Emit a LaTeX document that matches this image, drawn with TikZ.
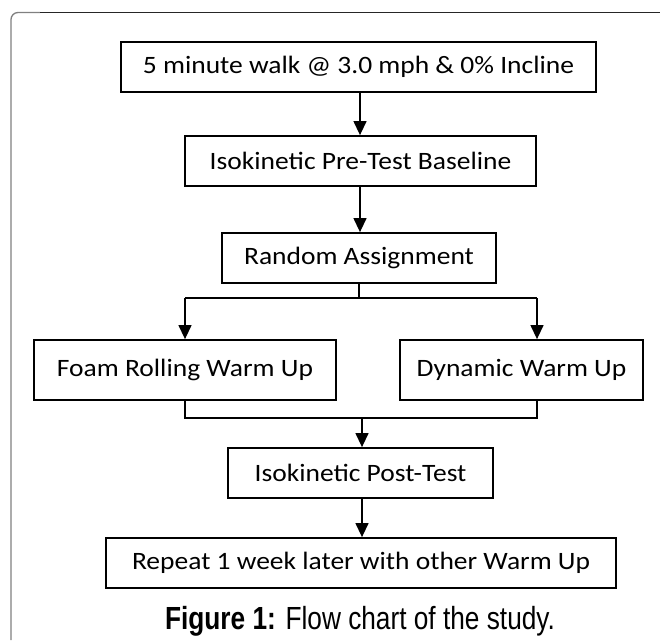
\documentclass[tikz,border=0pt]{standalone}
\usepackage{fontspec}
\setmainfont{Carlito}[FakeStretch=1.1]
\newfontfamily\capfont{Liberation Sans}[FakeStretch=0.82]
\usetikzlibrary{positioning, arrows.meta, calc}

\begin{document}
\begin{tikzpicture}[x=1pt, y=-1pt,
  stepbox/.style={draw, line width=1.8pt, inner sep=0pt, font=\fontsize{25}{30}\selectfont},
  link/.style={draw, line width=1.3pt},
  flow/.style={link, -{Triangle[length=14pt, width=13pt]}}]
\useasboundingbox (0,0) rectangle (660,640);
% frame
\draw[line width=1.3pt, gray, rounded corners=7pt] (11,640) -- (11,12.5) -- (40,12.5);
\draw[line width=1.3pt, black!85] (40,12.5) -- (660,12.5);

% boxes
\node[stepbox, minimum width=475pt, minimum height=50pt] (walk) at (358.5,67) {5 minute walk @ 3.0 mph \& 0\% Incline};
\node[stepbox, minimum width=351pt, minimum height=50pt] (pre) at (360.5,161) {Isokinetic Pre-Test Baseline};
\node[stepbox, minimum width=274pt, minimum height=50pt] (rand) at (359,258) {Random Assignment};
\node[stepbox, minimum width=302pt, minimum height=60pt] (foam) at (185,370) {Foam Rolling Warm Up};
\node[stepbox, minimum width=243pt, minimum height=60pt] (dyn) at (521.5,370) {Dynamic Warm Up};
\node[stepbox, minimum width=265pt, minimum height=50pt] (post) at (360.5,473) {Isokinetic Post-Test};
\node[stepbox, minimum width=510pt, minimum height=50pt] (rep) at (361,563) {Repeat 1 week later with other Warm Up};
\node[font=\capfont\fontsize{32}{36}\selectfont, anchor=base] (cap) at (360,629) {\textbf{Figure 1:} Flow chart of the study.};

% connectors
\coordinate (splitL) at (185,298);
\coordinate (splitR) at (537,298);
\coordinate (mergeL) at (185,418);
\coordinate (mergeR) at (537,418);
\draw[flow] (walk.south -| 360,0) -- (pre.north -| 360,0);
\draw[flow] (pre.south -| 360,0) -- (rand.north -| 360,0);
\draw[link] (rand.south) -- (rand.south |- splitL);
\draw[link] (splitL) -- (splitR);
\draw[flow] (splitL) -- (splitL |- foam.north);
\draw[flow] (splitR) -- (splitR |- dyn.north);
\draw[link] (mergeL |- foam.south) -- (mergeL) -- (mergeR) -- (mergeR |- dyn.south);
\draw[flow] (362,418) -- (post.north -| 362,0);
\draw[flow] (post.south -| 362,0) -- (rep.north -| 362,0);
\end{tikzpicture}
\end{document}
